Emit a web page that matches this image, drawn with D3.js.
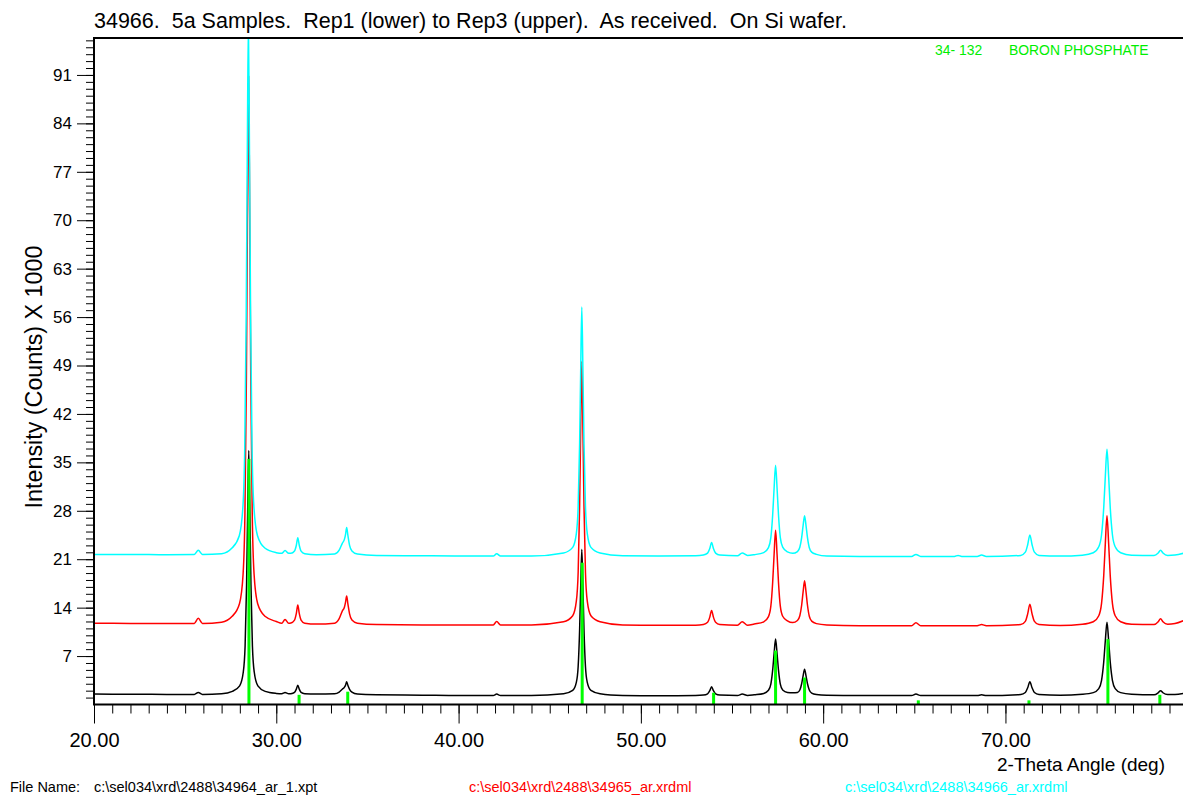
<!DOCTYPE html>
<html><head><meta charset="utf-8">
<script src="https://cdn.jsdelivr.net/npm/d3@7"></script>
<style>body{margin:0;background:#fff}svg{display:block}text{font-family:"Liberation Sans",Arial,sans-serif}</style>
</head><body>
<script>
// ---- DATA (2-theta deg, intensity in counts x 1000) ----
const titleText = "34966.  5a Samples.  Rep1 (lower) to Rep3 (upper).  As received.  On Si wafer.";
const yTickLabels = [7,14,21,28,35,42,49,56,63,70,77,84,91];
const xTickLabels = [20,30,40,50,60,70];
const fileNames = ["c:\\sel034\\xrd\\2488\\34964_ar_1.xpt","c:\\sel034\\xrd\\2488\\34965_ar.xrdml","c:\\sel034\\xrd\\2488\\34966_ar.xrdml"];
const seriesColors = ["#000000","#ff0000","#00ffff"];
const refCard = ["34- 132","BORON PHOSPHATE"];

const rep1 = [[20.0,1.5],[22.0,1.48],[24.0,1.46],[25.5,1.46],[25.72,1.75],[25.95,1.46],[27.0,1.55],[27.59,1.9],[27.99,2.7],[28.19,4.7],[28.29,8.5],[28.37,17.3],[28.43,27.9],[28.49,36.7],[28.55,27.9],[28.61,17.3],[28.69,8.5],[28.79,4.7],[28.99,2.7],[29.39,1.9],[30.0,1.6],[30.3,1.55],[30.48,1.72],[30.68,1.55],[30.8,1.57],[31.0,1.76],[31.1,2.22],[31.18,2.8],[31.26,2.22],[31.36,1.76],[31.56,1.57],[32.2,1.5],[33.2,1.55],[33.45,1.8],[33.62,2.2],[33.74,2.5],[33.8,2.8],[33.86,3.3],[33.93,2.75],[34.02,2.2],[34.15,1.8],[34.45,1.5],[35.5,1.4],[38.0,1.35],[40.0,1.3],[41.9,1.3],[42.09,1.5],[42.3,1.3],[44.0,1.3],[45.76,1.55],[46.26,2.04],[46.46,3.2],[46.56,5.5],[46.64,10.8],[46.7,17.1],[46.76,22.4],[46.82,17.1],[46.88,10.8],[46.96,5.5],[47.06,3.2],[47.26,2.04],[47.76,1.55],[49.0,1.3],[51.0,1.25],[53.0,1.3],[53.43,1.36],[53.66,1.55],[53.78,2.0],[53.88,2.57],[53.98,2.0],[54.1,1.55],[54.33,1.36],[55.3,1.3],[55.56,1.5],[55.85,1.3],[56.22,1.4],[56.74,1.6],[57.0,2.05],[57.13,2.95],[57.23,4.97],[57.31,7.41],[57.39,9.45],[57.47,7.41],[57.55,4.97],[57.65,2.95],[57.78,2.1],[58.04,1.75],[58.33,1.7],[58.59,1.75],[58.72,2.1],[58.82,3.0],[58.9,4.15],[58.98,5.1],[59.06,4.15],[59.14,3.0],[59.24,2.1],[59.37,1.65],[59.63,1.45],[60.2,1.35],[62.0,1.3],[64.85,1.3],[65.09,1.5],[65.35,1.3],[68.45,1.3],[68.69,1.4],[68.95,1.3],[70.84,1.45],[71.09,1.74],[71.22,2.42],[71.34,3.3],[71.46,2.42],[71.59,1.74],[71.84,1.45],[73.0,1.35],[74.22,1.48],[74.82,1.72],[75.12,2.3],[75.27,3.46],[75.39,6.1],[75.48,9.26],[75.57,11.9],[75.66,9.26],[75.75,6.1],[75.87,3.46],[76.02,2.3],[76.32,1.72],[76.92,1.48],[78.15,1.4],[78.38,1.7],[78.51,2.0],[78.64,1.7],[78.9,1.45],[79.3,1.45],[79.75,1.6]];

const rep2 = [[20.0,11.75],[22.0,11.72],[24.0,11.7],[25.5,11.72],[25.72,12.45],[25.95,11.72],[27.0,11.9],[27.58,12.75],[27.98,14.57],[28.18,18.9],[28.28,27.6],[28.36,47.35],[28.42,71.05],[28.48,90.8],[28.54,71.05],[28.6,47.35],[28.68,27.6],[28.78,18.9],[28.98,14.57],[29.38,12.75],[30.0,12.0],[30.3,11.75],[30.48,12.3],[30.68,11.75],[30.8,11.79],[31.0,12.2],[31.1,13.16],[31.18,14.4],[31.26,13.16],[31.36,12.2],[31.56,11.75],[32.2,11.62],[33.2,11.75],[33.45,12.4],[33.62,13.5],[33.74,14.1],[33.8,14.8],[33.86,15.7],[33.93,14.5],[34.02,13.1],[34.15,12.2],[34.45,11.75],[35.5,11.55],[38.0,11.5],[40.0,11.5],[41.9,11.5],[42.09,12.0],[42.3,11.5],[44.0,11.5],[45.76,11.96],[46.26,12.83],[46.46,14.93],[46.56,19.12],[46.64,28.65],[46.7,40.08],[46.76,49.6],[46.82,40.08],[46.88,28.65],[46.96,19.12],[47.06,14.93],[47.26,12.83],[47.76,11.96],[49.0,11.5],[51.0,11.45],[53.0,11.45],[53.43,11.56],[53.66,11.88],[53.78,12.63],[53.88,13.6],[53.98,12.63],[54.1,11.88],[54.33,11.56],[55.3,11.45],[55.56,11.95],[55.85,11.45],[56.22,11.63],[56.74,11.95],[57.0,12.7],[57.13,14.21],[57.23,17.64],[57.31,21.75],[57.39,25.2],[57.47,21.75],[57.55,17.64],[57.65,14.21],[57.78,12.76],[58.04,12.1],[58.33,11.85],[58.59,12.15],[58.72,12.83],[58.82,14.35],[58.9,16.27],[58.98,17.87],[59.06,16.27],[59.14,14.35],[59.24,12.75],[59.37,12.05],[59.63,11.69],[60.2,11.5],[62.0,11.4],[64.85,11.4],[65.09,11.8],[65.35,11.4],[68.45,11.4],[68.69,11.55],[68.95,11.4],[70.84,11.55],[71.09,12.02],[71.22,13.1],[71.34,14.5],[71.46,13.1],[71.59,12.02],[71.84,11.55],[73.0,11.42],[74.22,11.59],[74.82,11.96],[75.12,12.83],[75.27,14.58],[75.39,18.56],[75.48,23.33],[75.57,27.3],[75.66,23.33],[75.75,18.56],[75.87,14.58],[76.02,12.83],[76.32,11.96],[76.92,11.59],[78.15,11.55],[78.38,11.95],[78.51,12.4],[78.64,11.95],[78.9,11.6],[79.3,11.7],[79.75,12.1]];

const rep3 = [[20.0,21.7],[22.0,21.7],[24.0,21.65],[25.5,21.68],[25.72,22.3],[25.95,21.68],[27.0,21.8],[27.57,22.62],[27.97,24.4],[28.17,28.63],[28.27,37.1],[28.35,56.35],[28.41,79.45],[28.47,98.7],[28.53,79.45],[28.59,56.35],[28.67,37.1],[28.77,28.63],[28.97,24.4],[29.37,22.62],[30.0,21.95],[30.3,21.85],[30.48,22.25],[30.68,21.85],[30.8,21.85],[31.0,22.18],[31.1,23.02],[31.18,24.1],[31.26,23.02],[31.36,22.18],[31.56,21.8],[32.2,21.65],[33.2,21.75],[33.45,22.3],[33.62,23.3],[33.74,23.9],[33.8,24.6],[33.86,25.6],[33.93,24.4],[34.02,23.0],[34.15,22.2],[34.45,21.75],[35.5,21.55],[38.0,21.5],[40.0,21.45],[41.9,21.45],[42.09,21.8],[42.3,21.45],[44.0,21.45],[45.76,21.9],[46.26,22.71],[46.46,24.69],[46.56,28.65],[46.64,37.65],[46.7,48.45],[46.76,57.45],[46.82,48.45],[46.88,37.65],[46.96,28.65],[47.06,24.69],[47.26,22.71],[47.76,21.9],[49.0,21.5],[51.0,21.45],[53.0,21.5],[53.43,21.6],[53.66,21.88],[53.78,22.55],[53.88,23.4],[53.98,22.55],[54.1,21.88],[54.33,21.6],[55.3,21.5],[55.56,21.9],[55.85,21.55],[56.22,21.66],[56.74,21.96],[57.0,22.68],[57.13,24.12],[57.23,27.4],[57.31,31.33],[57.39,34.6],[57.47,31.33],[57.55,27.4],[57.65,24.12],[57.78,22.74],[58.04,22.05],[58.33,21.85],[58.59,22.1],[58.72,22.72],[58.82,24.11],[58.9,25.85],[58.98,27.3],[59.06,25.85],[59.14,24.11],[59.24,22.66],[59.37,22.02],[59.63,21.7],[60.2,21.45],[62.0,21.4],[64.85,21.4],[65.09,21.7],[65.35,21.4],[67.2,21.4],[67.4,21.55],[67.6,21.4],[68.45,21.4],[68.69,21.6],[68.95,21.4],[70.84,21.55],[71.09,22.02],[71.22,23.1],[71.34,24.5],[71.46,23.1],[71.59,22.02],[71.84,21.55],[73.0,21.45],[74.22,21.59],[74.82,21.94],[75.12,22.8],[75.27,24.5],[75.39,28.38],[75.48,33.03],[75.57,36.9],[75.66,33.03],[75.75,28.38],[75.87,24.5],[76.02,22.8],[76.32,21.94],[76.92,21.59],[78.15,21.55],[78.38,21.9],[78.51,22.3],[78.64,21.9],[78.9,21.55],[79.3,21.6],[79.75,21.85]];

// reference stick pattern 34-132 (position, height)
const stickPos = [28.50,31.25,33.92,46.78,53.99,57.39,58.98,65.22,71.29,75.62,78.47];
const stickHeight = [35.5,1.4,1.85,20.5,1.7,7.8,3.9,0.6,0.6,9.45,1.4];

// ---- LAYOUT ----
const W = 1183, H = 796;
const pL = 94, pT = 38, pR = 1183, pB = 704.5;
const x = d3.scaleLinear().domain([20, 79.74]).range([pL, pR]);
const y = d3.scaleLinear().domain([0, 96.34]).range([pB, pT]);

const svg = d3.select("body").append("svg").attr("width", W).attr("height", H);
svg.append("rect").attr("width", W).attr("height", H).attr("fill", "#fff");

svg.append("defs").append("clipPath").attr("id","plot")
  .append("rect").attr("x", pL).attr("y", pT).attr("width", pR-pL).attr("height", pB-pT);

// title
svg.append("text").attr("x", pL).attr("y", 28).attr("font-size", 21.5)
  .style("white-space","pre").text(titleText);

// y axis ticks
const yAxis = d3.axisLeft(y).tickValues(d3.range(1, 97)).tickSize(8).tickFormat("");
const gy = svg.append("g").attr("transform", `translate(${pL},0)`).call(yAxis);
gy.select(".domain").remove();
gy.selectAll("line").attr("stroke", "#000").attr("stroke-width", 1);
const yMaj = d3.axisLeft(y).tickValues(yTickLabels).tickSize(17).tickPadding(5).tickFormat(d3.format("d"));
const gy2 = svg.append("g").attr("transform", `translate(${pL},0)`).call(yMaj);
gy2.select(".domain").remove();
gy2.selectAll("line").attr("stroke", "#000");
gy2.selectAll("text").attr("font-size", 17).attr("font-family", '"Liberation Sans",Arial,sans-serif').attr("fill","#000");

// x axis ticks
const xAxis = d3.axisBottom(x).tickValues(d3.range(21, 80)).tickSize(9).tickFormat("");
const gx = svg.append("g").attr("transform", `translate(0,${pB})`).call(xAxis);
gx.select(".domain").remove();
gx.selectAll("line").attr("stroke", "#000");
const xMaj = d3.axisBottom(x).tickValues(xTickLabels).tickSize(19).tickPadding(9).tickFormat(d3.format(".2f"));
const gx2 = svg.append("g").attr("transform", `translate(0,${pB})`).call(xMaj);
gx2.select(".domain").remove();
gx2.selectAll("line").attr("stroke", "#000");
gx2.selectAll("text").attr("font-size", 20).attr("font-family", '"Liberation Sans",Arial,sans-serif').attr("fill","#000");

// series
const line = d3.line().x(d => x(d[0])).y(d => y(d[1])).curve(d3.curveMonotoneX);
const gp = svg.append("g").attr("clip-path", "url(#plot)");
[rep1, rep2, rep3].forEach((s, i) => {
  gp.append("path").datum(s).attr("d", line).attr("fill", "none")
    .attr("stroke", seriesColors[i]).attr("stroke-width", 1.5).attr("stroke-linejoin","round");
});
// reference sticks
gp.selectAll("rect.stick").data(stickPos).enter().append("rect").attr("class","stick")
  .attr("x", d => x(d) - 1.5).attr("width", 3)
  .attr("y", (d, i) => y(stickHeight[i])).attr("height", (d, i) => pB - y(stickHeight[i]))
  .attr("fill", "#00ff00");

// frame
svg.append("line").attr("x1", pL).attr("x2", pL).attr("y1", pT).attr("y2", pB).attr("stroke","#000").attr("stroke-width",2);
svg.append("line").attr("x1", pL-1).attr("x2", pR).attr("y1", pT).attr("y2", pT).attr("stroke","#000").attr("stroke-width",2);
svg.append("line").attr("x1", pL-1).attr("x2", pR).attr("y1", pB).attr("y2", pB).attr("stroke","#000").attr("stroke-width",2);

// axis titles
svg.append("text").attr("transform", "translate(42,377) rotate(-90)").attr("text-anchor","middle")
  .attr("font-size", 23.3).text("Intensity (Counts) X 1000");
svg.append("text").attr("x", 1165).attr("y", 771).attr("text-anchor","end").attr("font-size", 19).text("2-Theta Angle (deg)");

// reference card legend
svg.append("text").attr("x", 935).attr("y", 55).attr("font-size", 13.9).attr("fill", "#00ee00").text(refCard[0]);
svg.append("text").attr("x", 1009).attr("y", 55).attr("font-size", 13.9).attr("fill", "#00ee00").text(refCard[1]);

// file names
svg.append("text").attr("x", 10).attr("y", 792).attr("font-size", 14.5).text("File Name:");
const fx = [94, 469, 845];
fileNames.forEach((f, i) => {
  svg.append("text").attr("x", fx[i]).attr("y", 792).attr("font-size", 14.5).attr("fill", seriesColors[i]).text(f);
});
</script>
</body></html>
